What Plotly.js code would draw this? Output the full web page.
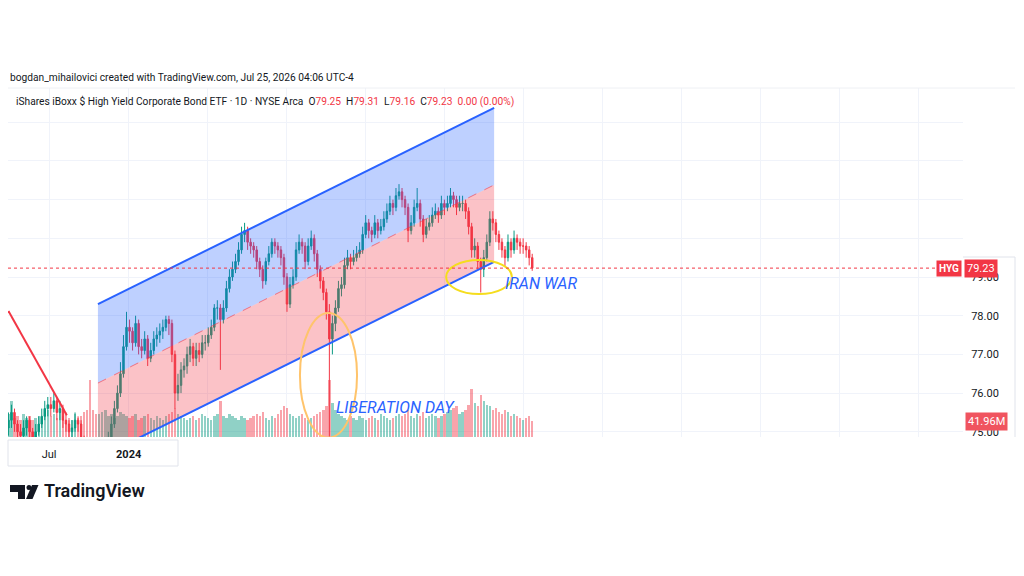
<!DOCTYPE html>
<html><head><meta charset="utf-8">
<script src="https://cdn.plot.ly/plotly-3.0.1.min.js"></script>
<style>html,body{margin:0;padding:0;background:#fff;}#chart{width:1024px;height:576px;}</style>
</head><body><div id="chart"></div>
<script>
// ---- data (weekly bars) ----
const weekStart = '2023-03-29';
const opens = [
75.1,75.3,75.5,75.2,75.0,74.9,75.1,75.3,75.0,74.8,
75.0,75.2,75.4,75.6,75.7,75.6,75.8,75.5,75.6,75.3,
75.2,75.0,75.1,75.3,75.2,74.8,74.5,74.2,73.8,73.4,
73.0,73.2,73.8,74.4,74.8,75.2,75.6,76.0,76.5,77.2,
77.7,77.6,77.3,77.8,77.2,77.1,77.4,76.9,77.1,77.4,
77.5,77.6,77.7,77.9,77.8,77.0,76.0,76.2,76.6,76.7,
77.0,77.2,76.9,77.1,77.0,77.3,77.3,77.5,77.7,78.2,
78.2,77.9,78.2,78.7,79.0,79.2,79.4,79.7,80.1,80.2,
79.9,79.8,79.7,79.4,79.2,78.9,79.4,79.6,79.9,79.8,
79.7,79.5,79.0,78.3,78.8,79.0,79.7,79.9,79.8,79.4,
79.8,80.0,79.6,79.2,78.9,78.6,78.1,77.4,77.8,78.2,
78.7,78.8,79.3,79.5,79.4,79.5,79.6,79.7,80.1,80.4,
80.2,80.1,80.4,80.2,80.3,80.5,80.7,80.9,80.8,81.1,
81.2,81.0,80.8,80.2,80.4,80.8,80.9,80.5,80.1,80.3,
80.4,80.6,80.7,80.6,80.9,80.8,80.9,81.1,81.0,80.8,
80.9,80.9,80.7,80.3,79.7,79.8,79.4,79.2,79.5,79.9,
80.5,80.4,80.1,79.9,79.7,79.5,79.9,79.7,80.0,79.9,79.8,79.8,79.7,79.5];
const highs = [
75.5,75.7,75.6,75.3,75.2,75.3,75.4,75.4,75.1,75.2,
75.4,75.6,75.8,75.9,75.9,76.0,75.9,75.8,75.7,75.5,
75.3,75.3,75.5,75.4,75.3,74.9,74.6,74.3,73.9,73.5,
73.4,74.0,74.6,75.0,75.4,75.8,76.2,76.8,77.5,78.1,
77.9,77.7,78.0,77.9,77.4,77.6,77.5,77.3,77.6,77.7,
77.8,77.9,78.0,78.0,77.9,77.1,76.5,76.8,76.9,77.2,
77.4,77.3,77.3,77.3,77.5,77.5,77.7,77.9,78.3,78.4,
78.3,78.4,78.9,79.2,79.4,79.6,79.9,80.3,80.4,80.3,
80.0,79.9,79.8,79.5,79.3,79.5,79.8,80.0,80.0,79.9,
79.8,79.6,79.1,79.0,79.2,79.9,80.1,80.0,79.9,80.0,
80.2,80.1,79.7,79.3,79.0,78.7,78.3,78.0,78.4,78.9,
79.0,79.5,79.7,79.6,79.7,79.8,79.9,80.3,80.6,80.5,
80.3,80.6,80.5,80.5,80.7,80.9,81.1,81.0,81.3,81.4,
81.3,81.1,80.9,80.6,81.0,81.3,81.0,80.6,80.5,80.6,
80.8,80.9,80.8,81.1,81.0,81.1,81.3,81.2,81.1,81.1,
81.1,81.0,80.8,80.4,80.0,79.9,79.5,79.7,80.1,80.7,
80.7,80.5,80.2,80.0,79.8,80.1,80.0,80.2,80.1,80.0,80.0,79.9,79.8,79.6];
const lows = [
74.9,75.1,75.0,74.8,74.7,74.8,74.9,74.8,74.6,74.7,
74.9,75.1,75.3,75.4,75.4,75.5,75.3,75.3,75.1,75.0,
74.8,74.8,75.0,75.0,74.6,74.3,74.0,73.6,73.2,72.8,
72.8,73.1,73.7,74.3,74.7,75.1,75.5,75.9,76.4,77.1,
77.3,77.1,77.2,77.0,76.9,77.0,76.7,76.8,77.0,77.2,
77.3,77.4,77.6,77.5,76.8,75.6,75.8,76.0,76.4,76.5,
76.8,76.7,76.7,76.8,76.9,77.1,77.2,77.4,77.6,77.9,
76.6,77.8,78.1,78.6,78.9,79.1,79.3,79.6,79.9,79.7,
79.6,79.5,79.2,79.0,78.7,78.8,79.3,79.5,79.6,79.5,
79.3,78.8,78.1,78.2,78.7,78.9,79.6,79.6,79.2,79.3,
79.7,79.4,79.0,78.7,78.4,77.9,74.6,77.0,77.6,78.1,
78.5,78.7,79.2,79.2,79.3,79.4,79.5,79.6,80.0,80.0,
79.9,80.0,80.0,80.1,80.2,80.4,80.6,80.6,80.7,81.0,
80.8,80.6,79.9,80.1,80.3,80.7,80.3,79.9,80.0,80.2,
80.3,80.5,80.4,80.5,80.6,80.7,80.8,80.8,80.6,80.7,
80.7,80.5,80.1,79.5,79.5,79.2,78.6,79.0,79.4,79.8,
80.2,79.9,79.7,79.5,79.26,79.4,79.5,79.6,79.7,79.6,79.6,79.5,79.3,79.16];
const closes = [
75.3,75.5,75.2,75.0,74.9,75.1,75.3,75.0,74.8,75.0,
75.2,75.4,75.6,75.7,75.6,75.8,75.5,75.6,75.3,75.2,
75.0,75.1,75.3,75.2,74.8,74.5,74.2,73.8,73.4,73.0,
73.2,73.8,74.4,74.8,75.2,75.6,76.0,76.5,77.2,77.7,
77.6,77.3,77.8,77.2,77.1,77.4,76.9,77.1,77.4,77.5,
77.6,77.7,77.9,77.8,77.0,76.0,76.2,76.6,76.7,77.0,
77.2,76.9,77.1,77.0,77.3,77.3,77.5,77.7,78.2,78.2,
77.9,78.2,78.7,79.0,79.2,79.4,79.7,80.1,80.2,79.9,
79.8,79.7,79.4,79.2,78.9,79.4,79.6,79.9,79.8,79.7,
79.5,79.0,78.3,78.8,79.0,79.7,79.9,79.8,79.4,79.8,
80.0,79.6,79.2,78.9,78.6,78.1,77.4,77.8,78.2,78.7,
78.8,79.3,79.5,79.4,79.5,79.6,79.7,80.1,80.4,80.2,
80.1,80.4,80.2,80.3,80.5,80.7,80.9,80.8,81.1,81.2,
81.0,80.8,80.2,80.4,80.8,80.9,80.5,80.1,80.3,80.4,
80.6,80.7,80.6,80.9,80.8,80.9,81.1,81.0,80.8,80.9,
80.9,80.7,80.3,79.7,79.8,79.4,79.2,79.5,79.9,80.5,
80.4,80.1,79.9,79.7,79.5,79.9,79.7,80.0,79.9,79.8,79.8,79.7,79.5,79.23];
const volumes = [
60,95,50,55,45,60,50,55,45,50,
55,45,60,70,55,60,50,65,55,45,
50,45,60,50,55,65,70,150,70,60,
60,65,70,55,60,50,55,65,60,55,
50,55,60,45,50,55,60,50,45,55,
50,45,55,60,65,75,60,55,50,45,
50,55,45,50,60,55,50,45,55,60,
95,55,50,60,55,50,45,55,50,45,
50,55,60,55,65,50,45,55,50,60,
70,80,75,60,55,50,55,60,50,45,
50,55,60,65,70,80,150,90,70,60,
55,50,45,55,50,45,55,50,45,50,
55,50,45,60,55,50,45,50,55,60,
55,60,70,55,50,60,55,65,50,55,
60,55,50,55,60,65,70,75,80,60,
65,70,85,125,90,80,110,95,85,80,
70,75,65,60,70,65,55,60,55,50,45,50,55,41.96];
const priceTicks = [75,76,77,78,79];
const priceTickText = ['75.00','76.00','77.00','78.00','79.00'];
const timeTicks = ['2023-07-01','2024-01-01'];
const timeTickText = ['Jul','<b>2024</b>'];
const channelDates = ['2023-10-22','2026-04-25'];
const channelUpper = [78.30, 83.37];
const channelMiddle = [76.26, 81.38];
const channelLower = [74.32, 79.39];
const trendDates = ['2023-03-29','2023-08-11'];
const trendPrices = [78.12, 75.43];
const lastPrice = 79.23;
const lastVolume = 41.96;
const headerO = '79.25', headerH = '79.31', headerL = '79.16', headerC = '79.23', headerChg = '0.00 (0.00%)';

// ---- helpers ----
function addDays(s, n){const d=new Date(s+'T00:00:00Z');d.setUTCDate(d.getUTCDate()+n);return d.toISOString().slice(0,10);}
const dates = closes.map((_,i)=>addDays(weekStart,7*i));
const L0=8, R0=963, T0=88, B0=437;
const PX = px => (px-L0)/(R0-L0);
const PY = py => (B0-py)/(B0-T0);
const UP='#089981', DN='#F23645', GRID='#f0f3fa', TXT='#131722';
const FONT='Roboto, "Open Sans", sans-serif';

const volColors = closes.map((c,i)=> c>=opens[i] ? 'rgba(8,153,129,0.45)' : 'rgba(242,54,69,0.45)');

const traces = [
 {type:'bar', x:dates, y:volumes, yaxis:'y', marker:{color:volColors, line:{width:0}}, width:86400000*5.5, hoverinfo:'skip'},
 {type:'scatter', mode:'lines', x:[channelDates[0],channelDates[1],channelDates[1],channelDates[0],channelDates[0]],
  y:[channelUpper[0],channelUpper[1],channelMiddle[1],channelMiddle[0],channelUpper[0]], yaxis:'y2',
  fill:'toself', fillcolor:'rgba(41,98,255,0.3)', line:{width:0}, hoverinfo:'skip'},
 {type:'scatter', mode:'lines', x:[channelDates[0],channelDates[1],channelDates[1],channelDates[0],channelDates[0]],
  y:[channelMiddle[0],channelMiddle[1],channelLower[1],channelLower[0],channelMiddle[0]], yaxis:'y2',
  fill:'toself', fillcolor:'rgba(242,54,69,0.3)', line:{width:0}, hoverinfo:'skip'},
 {type:'scatter', mode:'lines', x:channelDates, y:channelUpper, yaxis:'y2', line:{color:'#2962FF', width:2}},
 {type:'scatter', mode:'lines', x:channelDates, y:channelMiddle, yaxis:'y2', line:{color:'rgba(242,54,69,0.6)', width:1, dash:'dash'}},
 {type:'scatter', mode:'lines', x:channelDates, y:channelLower, yaxis:'y2', line:{color:'#2962FF', width:2}},
 {type:'scatter', mode:'lines', x:trendDates, y:trendPrices, yaxis:'y2', line:{color:DN, width:2}},
 {type:'candlestick', x:dates, open:opens, high:highs, low:lows, close:closes, yaxis:'y2',
  increasing:{line:{color:UP, width:1}, fillcolor:UP}, decreasing:{line:{color:DN, width:1}, fillcolor:DN},
  whiskerwidth:0, hoverinfo:'skip'}
];

const hdr2 = 'iShares iBoxx $ High Yield Corporate Bond ETF · 1D · NYSE Arca&nbsp;&nbsp;'+
 'O<span style="color:#F23645">'+headerO+'</span>&nbsp;&nbsp;H<span style="color:#F23645">'+headerH+
 '</span>&nbsp;&nbsp;L<span style="color:#F23645">'+headerL+'</span>&nbsp;&nbsp;C<span style="color:#F23645">'+headerC+
 '</span>&nbsp;&nbsp;<span style="color:#F23645">'+headerChg+'</span>';

const annotations = [
 {xref:'paper', yref:'paper', x:PX(8), y:PY(77), xanchor:'left', yanchor:'middle', showarrow:false,
  text:'bogdan_mihailovici created with TradingView.com, Jul 25, 2026 04:06 UTC-4', font:{family:FONT, size:10.2, color:TXT}},
 {xref:'paper', yref:'paper', x:PX(14), y:PY(101), xanchor:'left', yanchor:'middle', showarrow:false,
  text:hdr2, font:{family:FONT, size:10.2, color:TXT}},
 {xref:'paper', yref:'y2', x:PX(949), y:lastPrice, xanchor:'center', yanchor:'middle', showarrow:false,
  text:'<b>HYG</b>', bgcolor:DN, borderpad:2, font:{family:FONT, size:10, color:'#ffffff'}},
 {xref:'paper', yref:'y2', x:PX(981), y:lastPrice, xanchor:'center', yanchor:'middle', showarrow:false,
  text:String(lastPrice.toFixed(2)), bgcolor:DN, borderpad:2, font:{family:FONT, size:11, color:'#ffffff'}},
 {xref:'paper', yref:'y', x:PX(986), y:lastVolume, xanchor:'center', yanchor:'middle', showarrow:false,
  text:lastVolume.toFixed(2)+'M', bgcolor:'#f0545f', borderpad:2, font:{family:FONT, size:11, color:'#ffffff'}},
 {xref:'x', yref:'y2', x:'2025-09-08', y:75.64, xanchor:'center', yanchor:'middle', showarrow:false,
  text:'<i>LIBERATION DAY</i>', font:{family:FONT, size:16, color:'#2962FF'}},
 {xref:'x', yref:'y2', x:'2026-08-11', y:78.82, xanchor:'center', yanchor:'middle', showarrow:false,
  text:'<i>IRAN WAR</i>', font:{family:FONT, size:16, color:'#2962FF'}},
 {xref:'paper', yref:'paper', x:PX(42), y:PY(491), xanchor:'left', yanchor:'middle', showarrow:false,
  text:'TradingView', font:{family:FONT, size:18, color:TXT, weight:600}}
];

const shapes = [
 {type:'circle', xref:'x', yref:'y2', x0:'2025-01-31', x1:'2025-06-12', y0:74.85, y1:78.07, line:{color:'#ffc46b', width:2}},
 {type:'circle', xref:'x', yref:'y2', x0:'2026-01-04', x1:'2026-06-05', y0:78.56, y1:79.44, line:{color:'#f5dd1e', width:2}},
 {type:'line', xref:'paper', yref:'y2', x0:0, x1:PX(935), y0:lastPrice, y1:lastPrice, line:{color:DN, width:1, dash:'dot'}},
 {type:'rect', xref:'paper', yref:'paper', x0:PX(8), x1:PX(178), y0:PY(466), y1:PY(440), line:{color:'#e0e3eb', width:1}, fillcolor:'rgba(0,0,0,0)', layer:'below'},
 {type:'line', xref:'paper', yref:'paper', x0:PX(8), x1:PX(1015), y0:PY(88), y1:PY(88), line:{color:'#eef0f4', width:1}},
 {type:'line', xref:'paper', yref:'paper', x0:PX(1015), x1:PX(1015), y0:PY(257), y1:PY(437), line:{color:'#e0e3eb', width:1}},
 {type:'line', xref:'paper', yref:'paper', x0:PX(963), x1:PX(1015), y0:PY(257), y1:PY(257), line:{color:'#e0e3eb', width:1}},
 // TradingView logo
 {type:'rect', xref:'paper', yref:'paper', x0:PX(10), x1:PX(25), y0:PY(492), y1:PY(485), fillcolor:TXT, line:{width:0}},
 {type:'rect', xref:'paper', yref:'paper', x0:PX(18), x1:PX(25), y0:PY(499), y1:PY(485), fillcolor:TXT, line:{width:0}},
 {type:'circle', xref:'paper', yref:'paper', x0:PX(26.5), x1:PX(31.5), y0:PY(490), y1:PY(485), fillcolor:TXT, line:{width:0}},
 {type:'path', xref:'paper', yref:'paper', path:'M'+PX(32)+','+PY(485)+' L'+PX(38.5)+','+PY(485)+' L'+PX(32.5)+','+PY(499)+' L'+PX(26)+','+PY(499)+' Z', fillcolor:TXT, line:{width:0}}
];

const layout = {
 width:1024, height:576, margin:{l:L0, r:1024-R0, t:T0, b:576-B0},
 paper_bgcolor:'#ffffff', plot_bgcolor:'#ffffff', showlegend:false, hovermode:false, bargap:0,
 font:{family:FONT, color:TXT},
 xaxis:{type:'date', range:['2023-03-28','2029-04-13'], tickvals:timeTicks, ticktext:timeTickText,
   ticks:'outside', ticklen:7, tickcolor:'rgba(0,0,0,0)', tickfont:{family:FONT, size:11, color:TXT},
   showgrid:true, gridcolor:GRID, zeroline:false, showline:false, rangeslider:{visible:false}, fixedrange:true,
   minor:{tick0:'2023-07-01', dtick:'M6', showgrid:true, gridcolor:GRID, ticks:''}},
 yaxis:{range:[0,915], visible:false, fixedrange:true},
 yaxis2:{overlaying:'y', side:'right', range:[74.866,83.884], tickvals:priceTicks, ticktext:priceTickText,
   ticks:'outside', ticklen:5, tickcolor:'rgba(0,0,0,0)', tickfont:{family:FONT, size:11, color:TXT},
   showgrid:true, gridcolor:GRID, zeroline:false, showline:false, fixedrange:true,
   minor:{tick0:0, dtick:1, showgrid:true, gridcolor:GRID, ticks:''}},
 annotations:annotations, shapes:shapes
};
Plotly.newPlot('chart', traces, layout, {staticPlot:true, displayModeBar:false});
</script></body></html>
